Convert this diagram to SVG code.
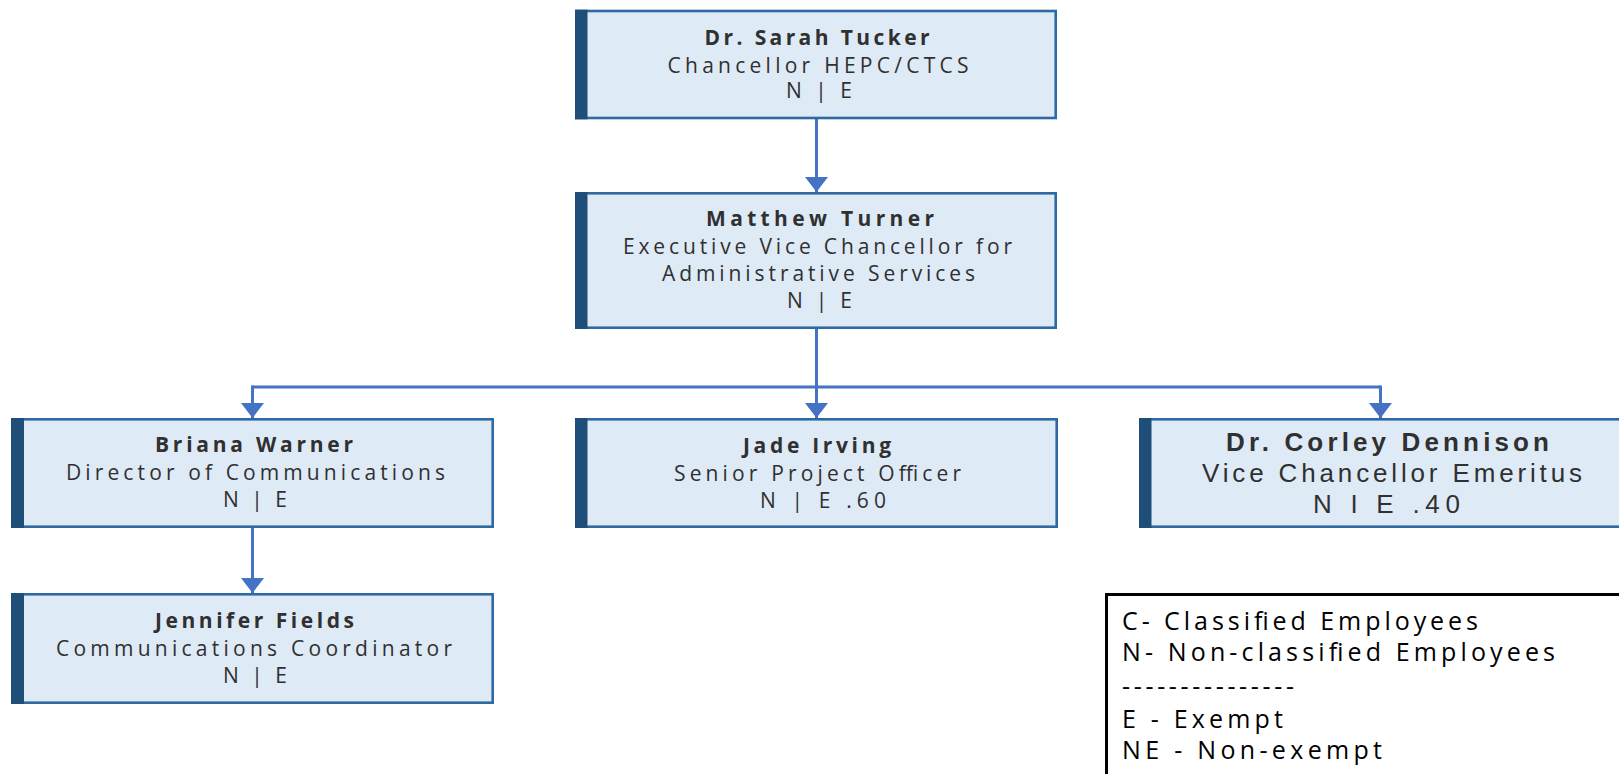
<svg xmlns="http://www.w3.org/2000/svg" width="1619" height="774" viewBox="0 0 1619 774">
<style>
.box{fill:#DEEAF6;stroke:#2E69A4;stroke-width:2.6}
.bar{fill:#1F4E79}
.t{font-family:"Open Sans","Noto Sans","DejaVu Sans",sans-serif;font-size:21px;fill:#303030;text-anchor:middle}
.b{font-weight:bold}
.a{font-family:"Liberation Sans",Arial,sans-serif;font-size:26px;fill:#303030;text-anchor:middle}
.lg{font-family:"Open Sans","Noto Sans",sans-serif;font-size:25px;fill:#000}
.c{fill:none;stroke:#4472C4;stroke-width:3}
</style>
<defs>
<marker id="ah" viewBox="0 0 15 23" refX="15" refY="11.5" markerWidth="15" markerHeight="23" markerUnits="userSpaceOnUse" orient="auto">
<path d="M0,0 L15,11.5 L0,23 z" fill="#4472C4"/>
</marker>
</defs>
<rect width="1619" height="774" fill="#fff"/>
<g id="connectors">
<path class="c" d="M816.5,119 V192" marker-end="url(#ah)"/>
<path class="c" d="M816.5,329 V387" />
<path class="c" d="M252.5,387 H1380.5"/>
<path class="c" d="M252.5,385.5 V418" marker-end="url(#ah)"/>
<path class="c" d="M816.5,387 V418" marker-end="url(#ah)"/>
<path class="c" d="M1380.5,385.5 V418" marker-end="url(#ah)"/>
<path class="c" d="M252.5,528 V593" marker-end="url(#ah)"/>
</g>
<g id="node-tucker">
<rect class="box" x="576.3" y="11" width="479.4" height="107"/>
<rect class="bar" x="575" y="9.7" width="12.5" height="109.6"/>
<text class="t b" x="817" y="45" textLength="225" lengthAdjust="spacing">Dr. Sarah Tucker</text>
<text class="t" x="818" y="73" textLength="301" lengthAdjust="spacing">Chancellor HEPC/CTCS</text>
<text class="t" x="819" y="98" textLength="66" lengthAdjust="spacing">N | E</text>
</g>
<g id="node-turner">
<rect class="box" x="576.3" y="193.3" width="479.4" height="134.4"/>
<rect class="bar" x="575" y="192" width="12.5" height="137"/>
<text class="t b" x="820" y="226" textLength="228" lengthAdjust="spacing">Matthew Turner</text>
<text class="t" x="817.5" y="254" textLength="389" lengthAdjust="spacing">Executive Vice Chancellor for</text>
<text class="t" x="818.5" y="281" textLength="313" lengthAdjust="spacing">Administrative Services</text>
<text class="t" x="819.5" y="308" textLength="65" lengthAdjust="spacing">N | E</text>
</g>
<g id="node-warner">
<rect class="box" x="12.3" y="419.3" width="480.4" height="107.4"/>
<rect class="bar" x="11" y="418" width="13" height="110"/>
<text class="t b" x="254" y="452" textLength="198" lengthAdjust="spacing">Briana Warner</text>
<text class="t" x="255.5" y="480" textLength="379" lengthAdjust="spacing">Director of Communications</text>
<text class="t" x="255" y="507" textLength="64" lengthAdjust="spacing">N | E</text>
</g>
<g id="node-irving">
<rect class="box" x="576.3" y="419.3" width="480.4" height="107.4"/>
<rect class="bar" x="575" y="418" width="12.5" height="110"/>
<text class="t b" x="817" y="453" textLength="148" lengthAdjust="spacing">Jade Irving</text>
<text class="t" x="817.5" y="481" textLength="287" lengthAdjust="spacing">Senior Project Officer</text>
<text class="t" x="823" y="508" textLength="126" lengthAdjust="spacing">N | E .60</text>
</g>
<g id="node-dennison">
<rect class="box" x="1140.3" y="419.3" width="480.4" height="107.4"/>
<rect class="bar" x="1139" y="418" width="12.5" height="110"/>
<text class="a b" x="1387.5" y="451" textLength="323" lengthAdjust="spacing">Dr. Corley Dennison</text>
<text class="a" x="1392" y="482" textLength="380" lengthAdjust="spacing">Vice Chancellor Emeritus</text>
<text class="a" x="1386.5" y="513" textLength="147" lengthAdjust="spacing">N I E .40</text>
</g>
<g id="node-fields">
<rect class="box" x="12.3" y="594.3" width="480.4" height="108.4"/>
<rect class="bar" x="11" y="593" width="13" height="111"/>
<text class="t b" x="254.5" y="628" textLength="199" lengthAdjust="spacing">Jennifer Fields</text>
<text class="t" x="254" y="656" textLength="396" lengthAdjust="spacing">Communications Coordinator</text>
<text class="t" x="255" y="683" textLength="64" lengthAdjust="spacing">N | E</text>
</g>
<g id="legend">
<rect x="1106.5" y="594.5" width="530" height="200" fill="#fff" stroke="#000" stroke-width="3"/>
<text class="lg" x="1122" y="630" textLength="356" lengthAdjust="spacing">C- Classified Employees</text>
<text class="lg" x="1122" y="661" textLength="433" lengthAdjust="spacing">N- Non-classified Employees</text>
<text class="lg" x="1122" y="695" textLength="172" lengthAdjust="spacing">---------------</text>
<text class="lg" x="1122" y="728" textLength="161" lengthAdjust="spacing">E - Exempt</text>
<text class="lg" x="1122" y="759" textLength="260" lengthAdjust="spacing">NE - Non-exempt</text>
</g>
</svg>
